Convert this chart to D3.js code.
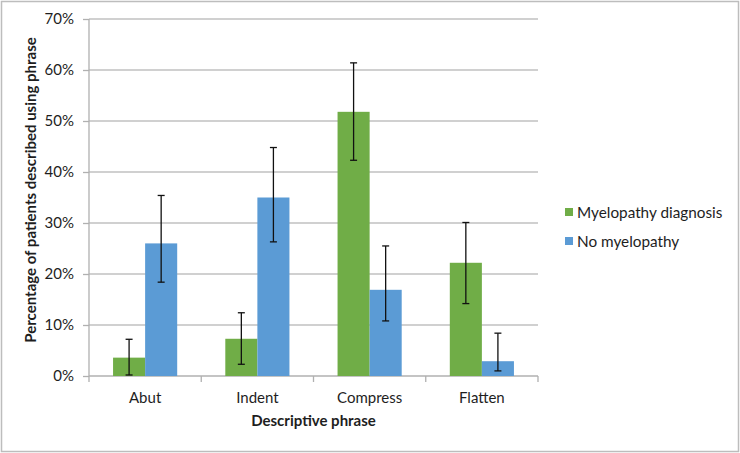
<!DOCTYPE html>
<meta charset="utf-8">
<html>
  <head>
    <title>Descriptive phrase by diagnosis</title>
    <style>
      body { margin: 0; background: #fff; }
      text { font-family: Lato, "Open Sans", sans-serif; fill: #1e1e1e; }
      .tick text { font-size: 15px; }
      .grid line { stroke: #c0c0c0; stroke-width: 1.3px; }
      .axis path, .axis line { stroke: #b0b0b0; stroke-width: 1.3px; }
      .title { font-size: 15px; font-weight: bold; }
      .legend text { font-size: 15.3px; }
      .err { stroke: #111; stroke-width: 1.3px; }
    </style>
    <script src="https://cdn.jsdelivr.net/npm/d3@7/dist/d3.min.js"></script>
  </head>
  <body>
    <div id="chart"></div>
    <script>
    // categories and series (percent)
    var categories = ["Abut", "Indent", "Compress", "Flatten"];
    var seriesNames = ["Myelopathy diagnosis", "No myelopathy"];
    var colors = ["#70AD47", "#5B9BD5"];

    var myelopathy = [3.6, 7.3, 51.8, 22.2];
    var myelopathyLow = [0.2, 2.3, 42.3, 14.2];
    var myelopathyHigh = [7.2, 12.4, 61.4, 30.1];

    var noMyelopathy = [26.0, 35.0, 16.9, 2.9];
    var noMyelopathyLow = [18.4, 26.3, 10.8, 1.0];
    var noMyelopathyHigh = [35.4, 44.8, 25.5, 8.4];

    var yTicks = [0, 10, 20, 30, 40, 50, 60, 70];

    var width = 740, height = 453;
    var plot = { left: 89, right: 538, top: 19, bottom: 376 };

    var svg = d3.select("#chart").append("svg")
      .attr("width", width)
      .attr("height", height);

    // outer frame
    svg.append("rect")
      .attr("x", 1.5).attr("y", 1.5)
      .attr("width", 737).attr("height", 450)
      .attr("fill", "#fff")
      .attr("stroke", "#bdbdbd")
      .attr("stroke-width", 1.5);

    var x = d3.scaleBand()
      .domain(categories)
      .range([plot.left, plot.right]);

    var xInner = d3.scaleBand()
      .domain(seriesNames)
      .range([0, x.bandwidth()])
      .paddingOuter(0.75);

    var y = d3.scaleLinear()
      .domain([0, 70])
      .range([plot.bottom, plot.top]);

    // gridlines
    svg.append("g")
      .attr("class", "grid")
      .selectAll("line")
      .data(yTicks.slice(1))
      .enter()
      .append("line")
      .attr("x1", plot.left).attr("x2", plot.right)
      .attr("y1", function(d) { return y(d); })
      .attr("y2", function(d) { return y(d); });

    // y axis
    var yAxis = svg.append("g")
      .attr("class", "axis")
      .attr("transform", "translate(" + plot.left + ",0)")
      .call(d3.axisLeft(y).tickValues(yTicks).tickSize(6).tickPadding(9)
        .tickFormat(function(d) { return d + "%"; }));
    yAxis.select(".domain").attr("d", "M0," + plot.top + "V" + plot.bottom);

    // x axis
    var xAxis = svg.append("g")
      .attr("class", "axis")
      .attr("transform", "translate(0," + plot.bottom + ")")
      .call(d3.axisBottom(x).tickSize(0).tickPadding(16));
    xAxis.select(".domain").attr("d", "M" + plot.left + ",0H" + plot.right);
    xAxis.selectAll(".sep")
      .data(categories.concat([null]))
      .enter()
      .append("line")
      .attr("class", "sep")
      .attr("x1", function(d, i) { return plot.left + i * x.step(); })
      .attr("x2", function(d, i) { return plot.left + i * x.step(); })
      .attr("y1", 0).attr("y2", 6);

    // data rows
    var rows = categories.map(function(c, i) {
      return [
        { cat: c, s: seriesNames[0], v: myelopathy[i], lo: myelopathyLow[i], hi: myelopathyHigh[i], c: colors[0] },
        { cat: c, s: seriesNames[1], v: noMyelopathy[i], lo: noMyelopathyLow[i], hi: noMyelopathyHigh[i], c: colors[1] }
      ];
    });
    var flat = [].concat.apply([], rows);

    var bars = svg.append("g");
    bars.selectAll("rect")
      .data(flat)
      .enter()
      .append("rect")
      .attr("x", function(d) { return x(d.cat) + xInner(d.s); })
      .attr("width", xInner.bandwidth())
      .attr("y", function(d) { return y(d.v); })
      .attr("height", function(d) { return y(0) - y(d.v); })
      .style("fill", function(d) { return d.c; });

    // error bars
    var cap = 3.5;
    var eb = svg.append("g").attr("class", "err");
    flat.forEach(function(d) {
      var cx = x(d.cat) + xInner(d.s) + xInner.bandwidth() / 2;
      eb.append("line").attr("x1", cx).attr("x2", cx).attr("y1", y(d.lo)).attr("y2", y(d.hi));
      eb.append("line").attr("x1", cx - cap).attr("x2", cx + cap).attr("y1", y(d.lo)).attr("y2", y(d.lo));
      eb.append("line").attr("x1", cx - cap).attr("x2", cx + cap).attr("y1", y(d.hi)).attr("y2", y(d.hi));
    });

    // axis titles
    svg.append("text")
      .attr("class", "title")
      .attr("x", (plot.left + plot.right) / 2)
      .attr("y", 426)
      .attr("text-anchor", "middle")
      .text("Descriptive phrase");

    svg.append("text")
      .attr("class", "title")
      .attr("transform", "translate(36,190) rotate(-90)")
      .attr("text-anchor", "middle")
      .text("Percentage of patients  described using phrase");

    // legend
    var legend = svg.selectAll(".legend")
      .data(seriesNames)
      .enter()
      .append("g")
      .attr("class", "legend")
      .attr("transform", function(d, i) { return "translate(565," + (212 + i * 29) + ")"; });

    legend.append("rect")
      .attr("x", 0).attr("y", -4)
      .attr("width", 8).attr("height", 8)
      .style("fill", function(d, i) { return colors[i]; });

    legend.append("text")
      .attr("x", 12)
      .attr("y", 5.5)
      .text(function(d) { return d; });
    </script>
  </body>
</html>
